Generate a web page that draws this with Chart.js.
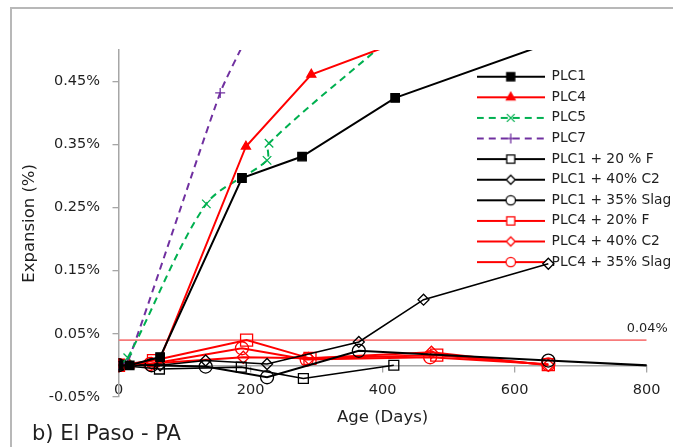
<!DOCTYPE html>
<html>
<head>
<meta charset="utf-8">
<script src="https://cdn.jsdelivr.net/npm/chart.js@4.4.1/dist/chart.umd.min.js"></script>
<style>
  body { margin: 0; background: #fff; overflow: hidden; }
  #frame { position: absolute; left: 10px; top: 7px; width: 700px; height: 500px;
           border-left: 2px solid #b8b8b8; border-top: 2px solid #b8b8b8; }
  #chart { position: absolute; left: 0; top: 0; }
</style>
</head>
<body>
<div id="frame"></div>
<canvas id="chart" width="673" height="447"></canvas>
<script>
// series: age in days / expansion in %
var plc1Days = [0, 17, 63, 187, 278, 419, 650];
var plc1Vals = [0, 0, 0.013, 0.297, 0.331, 0.424, 0.51];
var plc4Days = [0, 17, 63, 193, 292, 420];
var plc4Vals = [0, 0, 0.01, 0.347, 0.461, 0.511];
var plc5Days = [0, 14, 133, 225, 228, 420];
var plc5Vals = [0, 0.012, 0.256, 0.325, 0.352, 0.526];
var plc7Days = [0, 14, 154, 194];
var plc7Vals = [0, 0.005, 0.432, 0.52];
var plc1FDays = [0, 62, 186, 280, 417];
var plc1FVals = [0, -0.006, -0.003, -0.021, 0];
var plc1C2Days = [0, 63, 132, 225, 364, 462, 651];
var plc1C2Vals = [0, 0, 0.0075, 0.002, 0.037, 0.104, 0.161];
var plc1SlagDays = [0, 50, 132, 225, 364, 651, 850];
var plc1SlagVals = [0, 0, -0.002, -0.019, 0.023, 0.0075, -0.0027];
var plc4FDays = [0, 53, 194, 290, 482, 651];
var plc4FVals = [0, 0.0075, 0.04, 0.011, 0.016, 0.001];
var plc4C2Days = [0, 50, 189, 288, 474, 651];
var plc4C2Vals = [0, 0.003, 0.0127, 0.011, 0.0207, 0];
var plc4SlagDays = [0, 48, 187, 285, 472, 651];
var plc4SlagVals = [0, 0.002, 0.027, 0.009, 0.0127, 0.0015];
var limitDays = [0, 800];
var limitVals = [0.04, 0.04];

var yTicks = [-0.05, 0.05, 0.15, 0.25, 0.35, 0.45];
var limitLabel = '0.04%';

var FONT = '"DejaVu Sans", sans-serif';
var TEXT = '#1f1f1f';
var AXIS = '#a6a6a6';

function pts(days, vals) {
    return days.map(function (d, i) { return {x: d, y: vals[i]}; });
}

function series(label, days, vals, color, style, radius, legendRadius, opts) {
    var ds = {
        label: label,
        data: pts(days, vals),
        showLine: true,
        borderColor: color,
        borderWidth: 2,
        pointStyle: style,
        pointRadius: radius,
        pointHoverRadius: radius,
        pointBorderColor: color,
        pointBackgroundColor: 'rgba(0,0,0,0)',
        pointBorderWidth: 1.3,
        legendRadius: legendRadius,
        tension: 0
    };
    for (var k in opts) ds[k] = opts[k];
    return ds;
}

var datasets = [
    series('PLC1', plc1Days, plc1Vals, '#000000', 'rect', 6, 5.7, {pointBackgroundColor: '#000000'}),
    series('PLC4', plc4Days, plc4Vals, '#ff0000', 'triangle', 5.2, 5, {pointBackgroundColor: '#ff0000'}),
    series('PLC5', plc5Days, plc5Vals, '#00b050', 'crossRot', 6, 5.5, {borderDash: [7, 5], tension: 0.3}),
    series('PLC7', plc7Days, plc7Vals, '#7030a0', 'cross', 5, 5, {borderDash: [7, 5], tension: 0.2}),
    series('PLC1 + 20 % F', plc1FDays, plc1FVals, '#000000', 'rect', 7, 5.7, {borderWidth: 1.6}),
    series('PLC1 + 40% C2', plc1C2Days, plc1C2Vals, '#000000', 'rectRot', 5.5, 4.5, {borderWidth: 1.6}),
    series('PLC1 + 35% Slag', plc1SlagDays, plc1SlagVals, '#000000', 'circle', 6.5, 4.7, {borderWidth: 2}),
    series('PLC4 + 20% F', plc4FDays, plc4FVals, '#ff0000', 'rect', 8.5, 5.7, {}),
    series('PLC4 + 40% C2', plc4C2Days, plc4C2Vals, '#ff0000', 'rectRot', 6, 4.5, {}),
    series('PLC4 + 35% Slag', plc4SlagDays, plc4SlagVals, '#ff0000', 'circle', 6.5, 4.7, {}),
    {
        label: 'limit',
        data: pts(limitDays, limitVals),
        showLine: true,
        borderColor: '#f77b7b',
        borderWidth: 1.8,
        pointRadius: 0,
        pointHoverRadius: 0
    }
];

// legend samples: a short line with the marker in the middle
function makeIcon(ds) {
    var c = document.createElement('canvas');
    c.width = 68;
    c.height = 18;
    var g = c.getContext('2d');
    g.strokeStyle = ds.borderColor;
    g.lineWidth = 2;
    g.setLineDash(ds.borderDash || []);
    g.beginPath();
    g.moveTo(0, 9);
    g.lineTo(68, 9);
    g.stroke();
    g.setLineDash([]);
    g.lineWidth = ds.pointBorderWidth;
    g.strokeStyle = ds.pointBorderColor;
    g.fillStyle = ds.pointBackgroundColor === 'rgba(0,0,0,0)' ? '#ffffff' : ds.pointBackgroundColor;
    if (Chart.helpers && Chart.helpers.drawPoint && ds.legendRadius) {
        Chart.helpers.drawPoint(g, {pointStyle: ds.pointStyle, radius: ds.legendRadius, borderWidth: ds.pointBorderWidth, rotation: 0}, 34, 9);
    }
    return c;
}
var icons = datasets.map(makeIcon);

var legendPlace = {
    id: 'legendPlace',
    afterLayout: function (chart) {
        var lg = chart.legend;
        lg.left = chart.chartArea.right - 176.8;
        lg.top = chart.chartArea.top + 13;
        lg.right = lg.left + lg.width;
        lg.bottom = lg.top + 300;
    }
};

var limitText = {
    id: 'limitText',
    afterDatasetsDraw: function (chart) {
        var ctx = chart.ctx, x = chart.scales.x, y = chart.scales.y;
        ctx.save();
        ctx.font = '12.9px ' + FONT;
        ctx.fillStyle = TEXT;
        ctx.textAlign = 'right';
        ctx.textBaseline = 'alphabetic';
        ctx.fillText(limitLabel, x.getPixelForValue(limitDays[1]) + 21, y.getPixelForValue(limitVals[1]) - 8);
        ctx.restore();
    }
};

new Chart(document.getElementById('chart').getContext('2d'), {
    type: 'scatter',
    data: {datasets: datasets},
    plugins: [legendPlace, limitText],
    options: {
        responsive: false,
        animation: false,
        events: [],
        layout: {padding: {left: 32, top: 50, right: 26.3, bottom: 0}},
        scales: {
            x: {
                type: 'linear',
                position: {y: 0},
                min: 0,
                max: 800,
                afterFit: function (s) { s.height = 62; },
                ticks: {stepSize: 200, padding: 10, color: TEXT, font: {family: FONT, size: 14.5}},
                grid: {display: true, drawOnChartArea: false, drawTicks: true, tickLength: 6, color: AXIS, lineWidth: 1.3},
                border: {display: true, color: AXIS, width: 1.5},
                title: {display: true, text: 'Age (Days)', color: TEXT, font: {family: FONT, size: 16.5}, padding: {top: 0, bottom: 0}}
            },
            y: {
                type: 'linear',
                min: -0.05,
                max: 0.5,
                afterFit: function (s) { s.width = 86.5; },
                afterBuildTicks: function (s) { s.ticks = yTicks.map(function (v) { return {value: v}; }); },
                ticks: {
                    padding: 12.5, color: TEXT, font: {family: FONT, size: 14.5},
                    callback: function (v) { return v.toFixed(2) + '%'; }
                },
                grid: {display: true, drawOnChartArea: false, drawTicks: true, tickLength: 6, color: AXIS, lineWidth: 1.3},
                border: {display: true, color: AXIS, width: 1.5},
                title: {display: true, text: 'Expansion (%)', color: TEXT, font: {family: FONT, size: 16.5}, padding: {top: -12.6, bottom: 0}}
            }
        },
        plugins: {
            tooltip: {enabled: false},
            title: {
                display: true, position: 'bottom', align: 'start', text: 'b) El Paso - PA',
                color: TEXT, font: {family: FONT, size: 21, weight: 'normal'}, padding: {top: 25, bottom: 0}
            },
            legend: {
                display: true,
                position: 'chartArea',
                align: 'start',
                labels: {
                    usePointStyle: true,
                    pointStyleWidth: 68,
                    padding: 6.8,
                    color: TEXT,
                    font: {family: FONT, size: 13.8},
                    filter: function (item) { return item.datasetIndex < 10; },
                    generateLabels: function (chart) {
                        return Chart.defaults.plugins.legend.labels.generateLabels(chart).map(function (it) {
                            it.pointStyle = icons[it.datasetIndex];
                            return it;
                        });
                    }
                }
            }
        }
    }
});
</script>
</body>
</html>
